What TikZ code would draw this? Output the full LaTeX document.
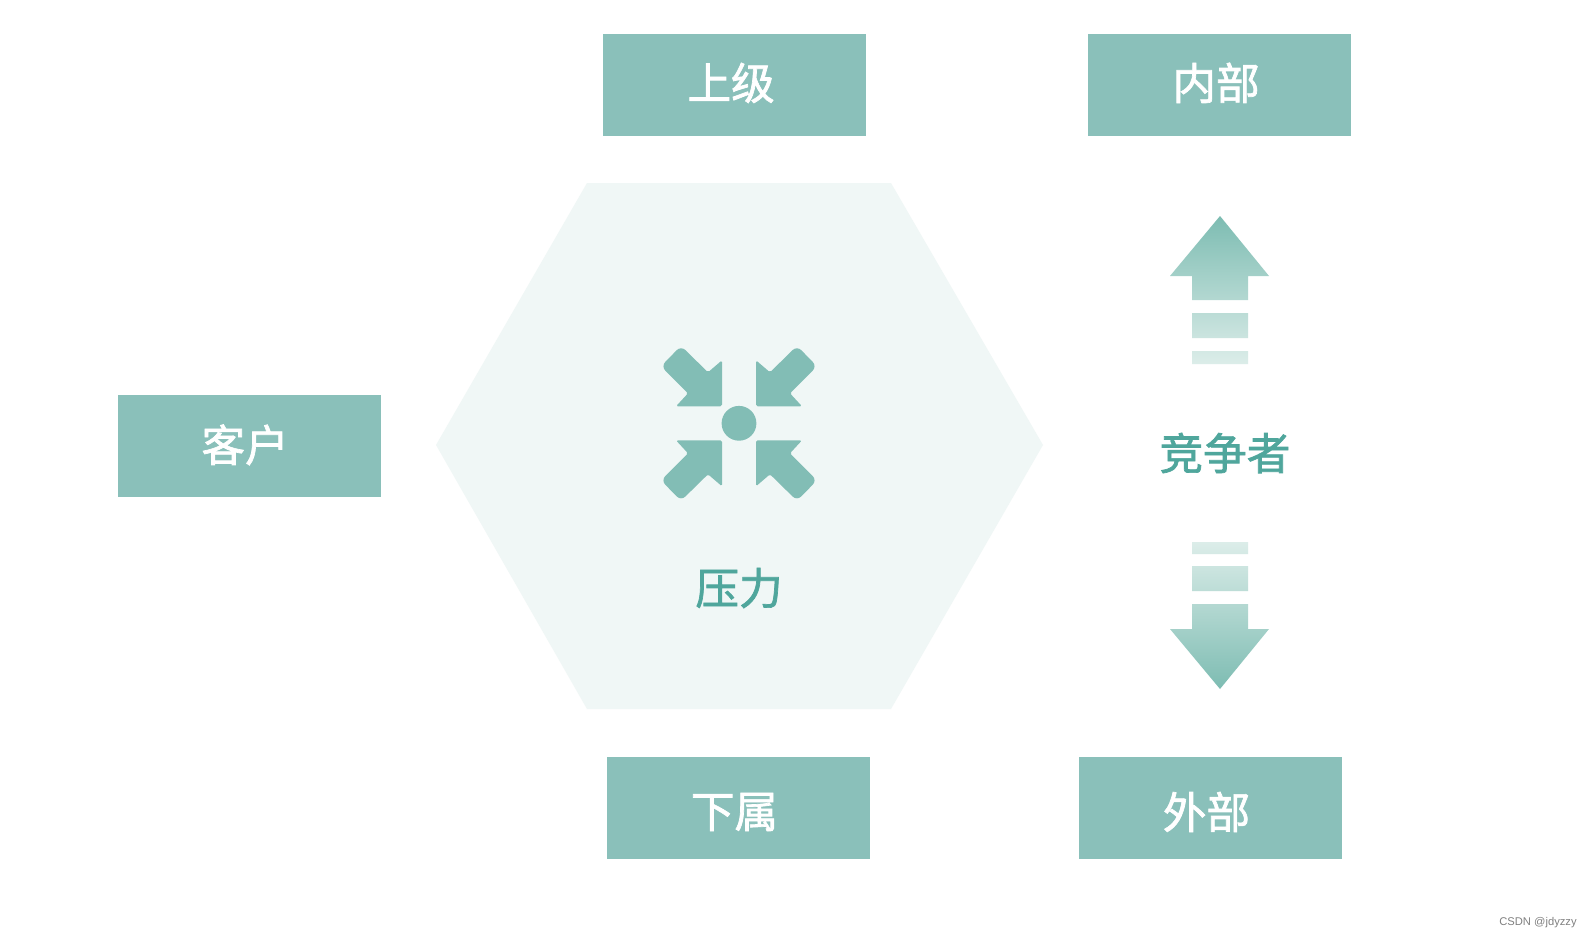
\documentclass[tikz,border=0pt]{standalone}
\usepackage{fontspec}
\setmainfont{Liberation Sans}
\newfontfamily\cjk[FakeBold=1.6]{Noto Sans CJK SC}
\usetikzlibrary{shadings}
\definecolor{boxteal}{HTML}{8AC0BA}
\definecolor{hexbg}{HTML}{F0F7F6}
\definecolor{iconteal}{HTML}{82BDB5}
\definecolor{textteal}{HTML}{4FA69C}
\definecolor{arrowtop}{HTML}{7DBCB2}
\definecolor{arrowmid}{HTML}{A3D0C7}
\definecolor{arrowend}{HTML}{DCEDE9}
\tikzset{
  levelbox/.style={draw=none,fill=boxteal,minimum width=131.5pt,minimum height=51pt,inner sep=0pt},
  boxlabel/.style={text=white,font=\cjk\fontsize{21.8}{24}\selectfont,inner sep=0pt},
  teallabel/.style={text=textteal,font=\cjk\fontsize{21.8}{24}\selectfont,inner sep=0pt},
  inarrow/.style={fill=iconteal,draw=none}
}
\newcommand{\inwardarrow}{%
  \path[inarrow] (-31,-51) [rounded corners=3pt] -- (-58,-77.5) -- (-78,-57) [rounded corners=0.8pt] -- (-51,-30) -- (-63,-17) -- (-17,-17) -- (-17,-63) -- cycle;}
\begin{document}
\begin{tikzpicture}[x=0.5pt,y=-0.5pt]
\useasboundingbox (0,0) rectangle (1592,938);
\fill[white] (0,0) rectangle (1592,938);
% hexagon
\fill[hexbg] (436,445) -- (587,183) -- (891,183) -- (1043,445) -- (891,709) -- (587,709) -- cycle;
% boxes
\node[levelbox,label={[boxlabel,xshift=-1.7pt,yshift=0.8pt]center:上级}] (sup) at (734.5,84.5) {};
\node[levelbox,label={[boxlabel,xshift=-1.7pt,yshift=0.8pt]center:内部}] (inn) at (1219.5,84.5) {};
\node[levelbox,label={[boxlabel,xshift=-2.2pt,yshift=0.3pt]center:客户}] (cus) at (249.5,445.5) {};
\node[levelbox,label={[boxlabel,xshift=-2pt,yshift=-2pt]center:下属}] (sub) at (738.5,808) {};
\node[levelbox,label={[boxlabel,xshift=-2pt,yshift=-2pt]center:外部}] (out) at (1210.5,808) {};
% centre icon
\begin{scope}[shift={(739,423.3)}]
  \fill[iconteal] (0,0) circle (8.7pt);
  \inwardarrow
  \begin{scope}[xscale=-1]\inwardarrow\end{scope}
  \begin{scope}[yscale=-1]\inwardarrow\end{scope}
  \begin{scope}[xscale=-1,yscale=-1]\inwardarrow\end{scope}
\end{scope}
\node[teallabel] (press) at (739,588) {压力};
\node[teallabel] (comp) at (1225,453) {竞争者};
% up arrow
\begin{scope}
  \clip (1220,216) -- (1269,276) -- (1248,276) -- (1248,300) -- (1192,300) -- (1192,276) -- (1170,276) -- cycle
        (1192,313) rectangle (1248,338)
        (1192,351) rectangle (1248,364);
  \shade[top color=arrowtop,middle color=arrowmid,bottom color=arrowend] (1165,216) rectangle (1275,364);
\end{scope}
% down arrow
\begin{scope}
  \clip (1220,689) -- (1269,629) -- (1248,629) -- (1248,604) -- (1192,604) -- (1192,629) -- (1170,629) -- cycle
        (1192,566) rectangle (1248,591)
        (1192,542) rectangle (1248,554);
  \shade[bottom color=arrowtop,middle color=arrowmid,top color=arrowend] (1165,542) rectangle (1275,689);
\end{scope}
\node[text=black!50,font=\fontsize{5.6}{7}\selectfont,inner sep=0pt] (mark) at (1538,923) {CSDN @jdyzzy};
\end{tikzpicture}
\end{document}
